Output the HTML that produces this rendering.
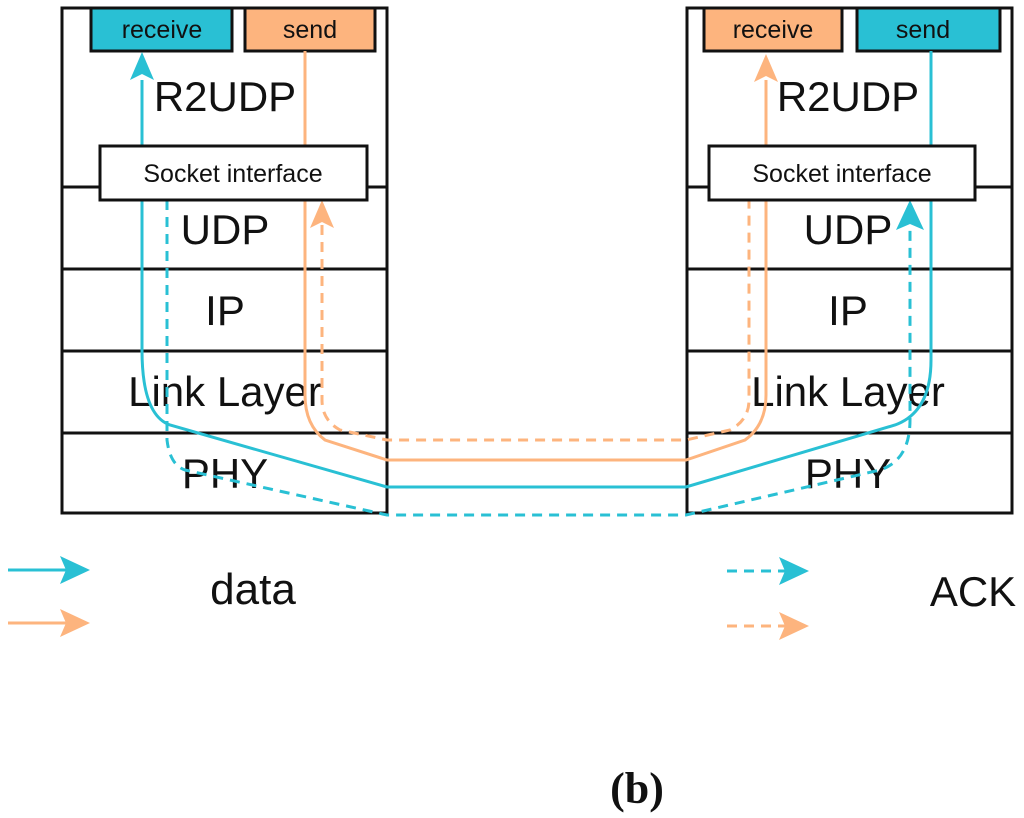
<!DOCTYPE html>
<html><head><style>body{margin:0;background:#fff}svg{display:block}</style></head><body>
<svg width="1024" height="818" viewBox="0 0 1024 818" xmlns="http://www.w3.org/2000/svg" font-family="Liberation Sans, sans-serif">
<g stroke="#111" stroke-width="3" fill="none">
<rect x="62" y="8" width="325" height="505"/>
<line x1="62" y1="187" x2="387" y2="187"/><line x1="62" y1="269" x2="387" y2="269"/><line x1="62" y1="351" x2="387" y2="351"/><line x1="62" y1="433" x2="387" y2="433"/>
<rect x="687" y="8" width="325" height="505"/>
<line x1="687" y1="187" x2="1012" y2="187"/><line x1="687" y1="269" x2="1012" y2="269"/><line x1="687" y1="351" x2="1012" y2="351"/><line x1="687" y1="433" x2="1012" y2="433"/>
</g>
<rect x="91" y="8" width="141" height="43" fill="#29c0d4" stroke="#111" stroke-width="3"/>
<rect x="245" y="8" width="130" height="43" fill="#fdb47e" stroke="#111" stroke-width="3"/>
<rect x="704" y="8" width="138" height="43" fill="#fdb47e" stroke="#111" stroke-width="3"/>
<rect x="857" y="8" width="143" height="43" fill="#29c0d4" stroke="#111" stroke-width="3"/>
<g font-size="25" text-anchor="middle" fill="#111">
<text x="162" y="38">receive</text><text x="310" y="38">send</text>
<text x="773" y="38">receive</text><text x="923" y="38">send</text>
</g>
<g font-size="42" text-anchor="middle" fill="#111">
<text x="225" y="111">R2UDP</text><text x="225" y="244">UDP</text><text x="225" y="325">IP</text><text x="225" y="406">Link Layer</text><text x="225" y="488">PHY</text>
<text x="848" y="111">R2UDP</text><text x="848" y="244">UDP</text><text x="848" y="325">IP</text><text x="848" y="406">Link Layer</text><text x="848" y="488">PHY</text>
</g>
<g fill="none" stroke-width="3">
<path d="M142,80 L142,350 Q142,415 170,425 L387,487 L686,487 L895,425 Q931,412 931,360 L931,51" stroke="#29c0d4"/>
<path d="M167,200 L167,440 Q170,465 185,470 L387,515 L686,515 L880,470 Q910,460 910,420 L910,225" stroke="#29c0d4" stroke-dasharray="10,7"/>
<path d="M305,51 L305,395 Q305,425 325,440 L387,460 L686,460 L745,440 Q766,425 766,395 L766,80" stroke="#fdb47e"/>
<path d="M322,225 L322,400 Q322,420 340,430 L387,440 L686,440 L730,430 Q749,420 749,400 L749,200" stroke="#fdb47e" stroke-dasharray="10,7"/>
</g>
<path d="M130,80 L142,52 L154,80 L142,74 Z" fill="#29c0d4"/>
<path d="M754,82 L766,54 L778,82 L766,76 Z" fill="#fdb47e"/>
<path d="M310,228 L322,200 L334,228 L322,222 Z" fill="#fdb47e"/>
<path d="M896,230 L910,200 L924,230 L910,224 Z" fill="#29c0d4"/>
<rect x="100" y="146" width="267" height="54" fill="#fff" stroke="#111" stroke-width="3"/>
<rect x="709" y="146" width="266" height="54" fill="#fff" stroke="#111" stroke-width="3"/>
<text x="233" y="182" font-size="25" text-anchor="middle" fill="#111">Socket interface</text>
<text x="842" y="182" font-size="25" text-anchor="middle" fill="#111">Socket interface</text>
<g stroke-width="3" fill="none">
<line x1="8" y1="570" x2="68" y2="570" stroke="#29c0d4"/>
<line x1="8" y1="623" x2="68" y2="623" stroke="#fdb47e"/>
<line x1="727" y1="571" x2="787" y2="571" stroke="#29c0d4" stroke-dasharray="10,7"/>
<line x1="727" y1="626" x2="787" y2="626" stroke="#fdb47e" stroke-dasharray="10,7"/>
</g>
<path d="M60,556 L90,570 L60,584 L66,570 Z" fill="#29c0d4"/>
<path d="M60,609 L90,623 L60,637 L66,623 Z" fill="#fdb47e"/>
<path d="M779,557 L809,571 L779,585 L785,571 Z" fill="#29c0d4"/>
<path d="M779,612 L809,626 L779,640 L785,626 Z" fill="#fdb47e"/>
<text x="253" y="604" font-size="44" text-anchor="middle" fill="#111">data</text>
<text x="973" y="606" font-size="42" text-anchor="middle" fill="#111">ACK</text>
<text x="637" y="803" font-size="44" font-weight="bold" font-family="Liberation Serif, serif" text-anchor="middle" fill="#111">(b)</text>
</svg>
</body></html>
